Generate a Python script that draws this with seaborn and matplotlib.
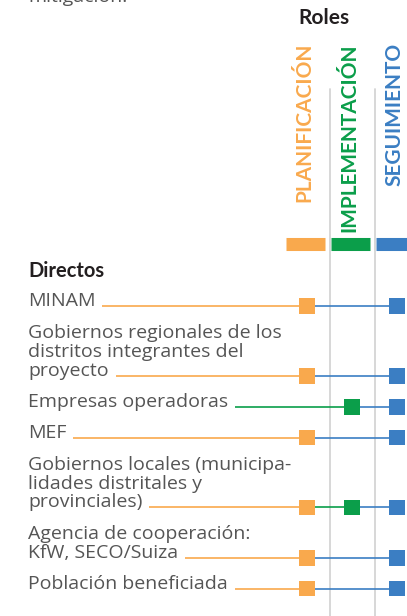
import numpy as np
import pandas as pd
import seaborn as sns
import matplotlib.pyplot as plt
import matplotlib.transforms as mtrans


# data ######################################################################
roles = ["PLANIFICACIÓN", "IMPLEMENTACIÓN", "SEGUIMIENTO"]
role_colors = ["#F9A94D", "#0B9E4A", "#3B7EC3"]

actors = [
    "MINAM",
    "Gobiernos regionales de los\ndistritos integrantes del\nproyecto",
    "Empresas operadoras",
    "MEF",
    "Gobiernos locales (municipa-\nlidades distritales y\nprovinciales)",
    "Agencia de cooperación:\nKfW, SECO/Suiza",
    "Población beneficiada",
]
planificacion = [1, 1, 0, 1, 1, 1, 1]
implementacion = [0, 0, 1, 0, 1, 0, 0]
seguimiento = [1, 1, 1, 1, 1, 1, 1]

# layout ####################################################################
W, H = 407, 616
LINE_PX = 19.6          # pixel pitch of one text line
FIRST_ROW_PX = 306      # pixel row of the first actor
GAP = 0.57              # extra space between actors, in lines
TEXT_X = 28 / W
LABEL_COLOR = "#555555"
LABEL_FONT = ["Open Sans", "DejaVu Sans"]
FS = 14

n_lines = np.array([a.count("\n") + 1 for a in actors])
ypos = np.cumsum(n_lines) + GAP * np.arange(len(actors))

rows = []
for k, actor in enumerate(actors):
    for j, flags in enumerate([planificacion, implementacion, seguimiento]):
        if flags[k]:
            rows.append({"actor": actor, "role": roles[j], "x": j, "y": ypos[k]})
df = pd.DataFrame(rows)

sns.set_style("white")
plt.rcParams["font.family"] = ["Lato", "DejaVu Sans"]

fig = plt.figure(figsize=(W / 100, H / 100), dpi=100)
ax = fig.add_axes([284.5 / W, 0, 135 / W, 1])
ax.set_xlim(-0.5, 2.5)
ax.set_ylim(ypos[0] + (H - FIRST_ROW_PX) / LINE_PX, ypos[0] - FIRST_ROW_PX / LINE_PX)
ax.axis("off")

sns.scatterplot(data=df, x="x", y="y", hue="role", hue_order=roles,
                palette=role_colors, marker="s", s=125, linewidth=0,
                legend=False, ax=ax, zorder=4, clip_on=False)

# column separators
for sep in [0.5, 1.5]:
    ax.axvline(sep, ymin=0, ymax=1 - 89 / H, color="#d4d4d4", lw=1.3, zorder=1)

xtr = ax.get_xaxis_transform()
# column headers and colour bars
for j, (role, col) in enumerate(zip(roles, role_colors)):
    ax.text(j - 0.06, 1 - 43 / H, role, transform=xtr, rotation=90,
            ha="center", va="top", fontsize=15, fontweight="bold", color=col)
    ax.plot([j - 0.47, j + 0.40], [1 - 244 / H] * 2, transform=xtr, color=col,
            lw=9.4, solid_capstyle="butt", clip_on=False)

ax.text(-0.2, 1 - 24 / H, "Roles", transform=xtr, ha="left", va="baseline",
        fontsize=15, fontweight="bold", color="#231f20")

# actor labels
ltr = mtrans.blended_transform_factory(fig.transFigure, ax.transData)
ltr = mtrans.offset_copy(ltr, fig=fig, y=-4, units="dots")
ax.text(TEXT_X, ypos[0] - 1.48, "Directos", transform=ltr, ha="left",
        va="bottom", fontsize=14.5, fontweight="bold", color="#231f20")
fig.text(TEXT_X, 1 - 1.5 / H, "mitigación.", ha="left", va="baseline",
         fontsize=FS, color=LABEL_COLOR, family=LABEL_FONT)

fig.canvas.draw()
renderer = fig.canvas.get_renderer()
for k, actor in enumerate(actors):
    ax.text(TEXT_X, ypos[k], actor, transform=ltr, ha="left", va="bottom",
            fontsize=FS, color=LABEL_COLOR, linespacing=1.07, family=LABEL_FONT)
    # width of the last line decides where the leader starts
    tmp = ax.text(TEXT_X, ypos[k], actor.split("\n")[-1], transform=ltr,
                  ha="left", va="bottom", fontsize=FS, family=LABEL_FONT)
    x_end = tmp.get_window_extent(renderer).x1
    tmp.remove()
    x_start = ax.transData.inverted().transform((x_end + 7, 0))[0]

    present = [j for j, f in enumerate([planificacion, implementacion, seguimiento]) if f[k]]
    xs = [x_start] + present
    for a, b in zip(xs[:-1], xs[1:]):
        ax.plot([a, b], [ypos[k]] * 2, color=role_colors[b], lw=1.2,
                zorder=2, clip_on=False, solid_capstyle="butt")

fig.savefig("out.png", dpi=100)
